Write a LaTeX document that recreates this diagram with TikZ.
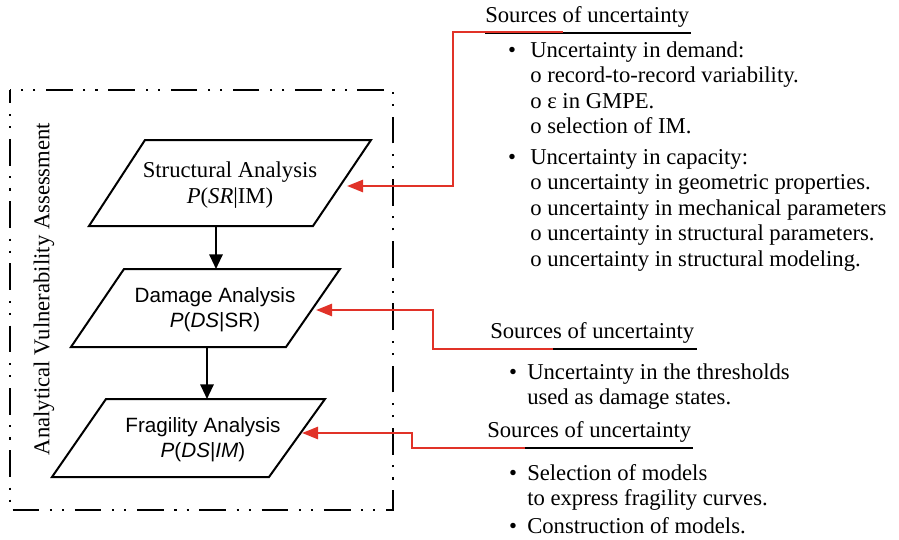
\documentclass[tikz,border=0pt]{standalone}
\usepackage{fontspec}
\setmainfont{Liberation Serif}
\setsansfont{Liberation Sans}
\usetikzlibrary{arrows.meta}
\definecolor{arrowred}{RGB}{225,50,40}
\begin{document}
\begin{tikzpicture}[x=0.75pt,y=-0.75pt,
  txt/.style={inner sep=0pt, font=\fontsize{17}{20}\selectfont, anchor=base west},
  ctxt/.style={inner sep=0pt, font=\fontsize{17}{20}\selectfont, anchor=base},
  stxt/.style={inner sep=0pt, font=\sffamily\fontsize{15.5}{18}\selectfont, anchor=base},
  para/.style={draw=black, line width=1.5pt, line join=miter},
  flow/.style={draw=black, line width=1.5pt, -{Triangle[length=11pt,width=10pt]}},
  redline/.style={draw=arrowred, line width=1.9pt, -{Triangle[length=12pt,width=9pt]}},
  uline/.style={draw=black, line width=0.8pt},
  frame/.style={draw=black, line width=2.2pt, dash pattern=on 20pt off 8pt on 1.6pt off 7.5pt on 1.6pt off 8pt, dash phase=10pt}
]
\useasboundingbox (0,0) rectangle (899,539);

% outer dash-dot frame
\draw[frame] (10,90) rectangle (393,510);
\node[ctxt, rotate=90, anchor=center] (avatitle) at (44,289) {Analytical Vulnerability Assessment};

% parallelograms
\draw[para] (145,140) -- (371,140) -- (313,226) -- (89,226) -- cycle;
\draw[para] (124,269) -- (340,269) -- (286,347) -- (71,347) -- cycle;
\draw[para] (106,399) -- (325,399) -- (269,477) -- (52,477) -- cycle;

\node[ctxt] (sa1) at (230,177) {Structural Analysis};
\node[ctxt] (sa2) at (230,203) {\textit{P}(\textit{SR}|IM)};
\node[stxt] (da1) at (215,302) {Damage Analysis};
\node[stxt] (da2) at (215,327) {\textit{P}(\textit{DS}|SR)};
\node[stxt] (fa1) at (203,432) {Fragility Analysis};
\node[stxt] (fa2) at (203,457) {\textit{P}(\textit{DS}|\textit{IM})};

% connection points
\coordinate (saBot) at (216,226);
\coordinate (daTop) at (216,269);
\coordinate (daBot) at (207,347);
\coordinate (faTop) at (207,399);
\coordinate (saRight) at (347,186);
\coordinate (daRight) at (316,310);
\coordinate (faRight) at (302,433);

\draw[flow] (saBot) -- (daTop);
\draw[flow] (daBot) -- (faTop);

% source group 1
\node[txt] (s1title) at (485,22) {Sources of uncertainty};
\coordinate (s1a) at (485,33);
\coordinate (s1b) at (691,33);
\draw[uline] (s1a) -- (s1b);
\node[ctxt] (b1) at (512,57) {•};
\node[txt] (l1) at (530,57) {Uncertainty in demand:};
\node[txt] (l2) at (530,82.5) {o record-to-record variability.};
\node[txt] (l3) at (530,108) {o ε in GMPE.};
\node[txt] (l4) at (530,133.5) {o selection of IM.};
\node[ctxt] (b2) at (512,164) {•};
\node[txt] (l5) at (530,164) {Uncertainty in capacity:};
\node[txt] (l6) at (530,189.5) {o uncertainty in geometric properties.};
\node[txt] (l7) at (530,215) {o uncertainty in mechanical parameters};
\node[txt] (l8) at (530,240.5) {o uncertainty in structural parameters.};
\node[txt] (l9) at (530,266) {o uncertainty in structural modeling.};

% source group 2
\node[txt] (s2title) at (490,338) {Sources of uncertainty};
\coordinate (s2a) at (490,349);
\coordinate (s2b) at (697,349);
\draw[uline] (s2a) -- (s2b);
\node[ctxt] (b3) at (513,379) {•};
\node[txt] (m1) at (527,379) {Uncertainty in the thresholds};
\node[txt] (m2) at (527,404) {used as damage states.};

% source group 3
\node[txt] (s3title) at (487,437) {Sources of uncertainty};
\coordinate (s3a) at (487,448);
\coordinate (s3b) at (693,448);
\draw[uline] (s3a) -- (s3b);
\node[ctxt] (b4) at (513,480) {•};
\node[txt] (n1) at (527,480) {Selection of models};
\node[txt] (n2) at (527,505) {to express fragility curves.};
\node[ctxt] (b5) at (513,533) {•};
\node[txt] (n3) at (527,533) {Construction of models.};

% red connectors
\coordinate (r1) at (563,32);
\coordinate (r2) at (553,349);
\coordinate (r3) at (525,448);
\draw[redline] (r1) -- (453,32) -- (453,186) -- (saRight);
\draw[redline] (r2) -- (433,349) -- (433,310) -- (daRight);
\draw[redline] (r3) -- (412,448) -- (412,433) -- (faRight);
\end{tikzpicture}
\end{document}
